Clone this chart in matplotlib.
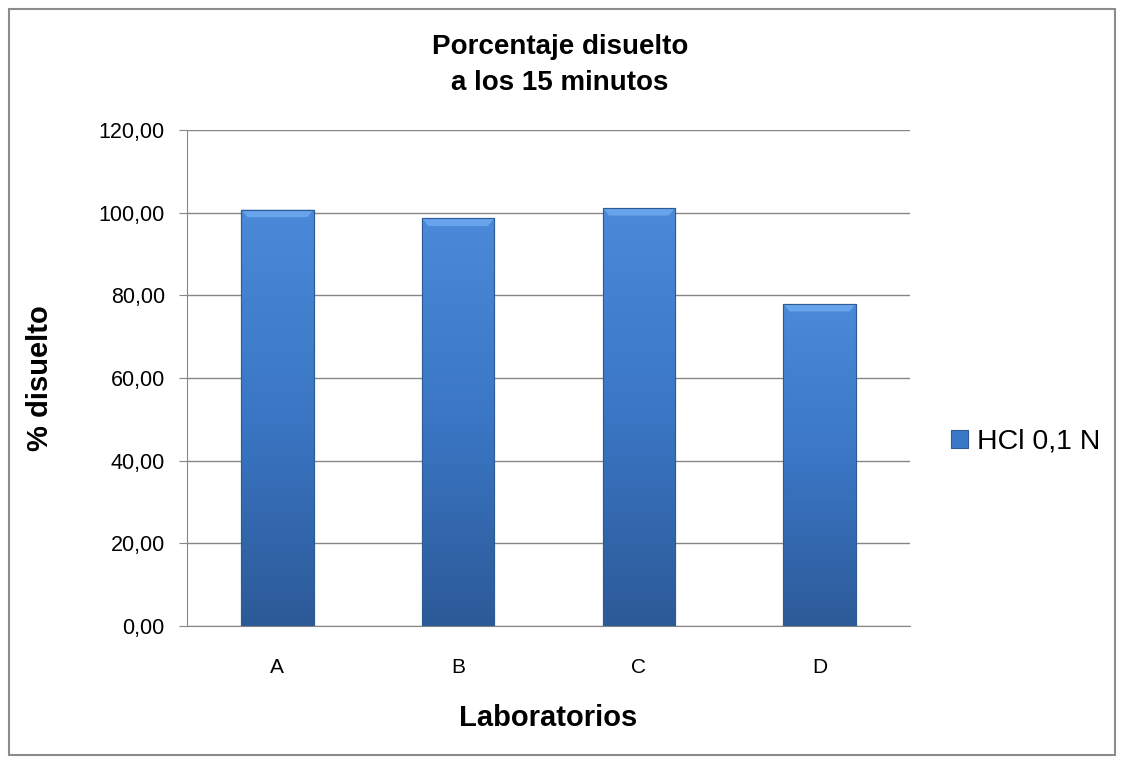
import matplotlib
matplotlib.use("Agg")
import matplotlib.pyplot as plt
import numpy as np
from matplotlib.patches import Rectangle, Polygon
from matplotlib.colors import LinearSegmentedColormap

laboratorios = ["A", "B", "C", "D"]
disuelto = [100.7, 98.6, 101.1, 77.9]
serie = "HCl 0,1 N"
yticks = [0, 20, 40, 60, 80, 100, 120]

plt.rcParams['font.family'] = ['Liberation Sans', 'DejaVu Sans']

fig = plt.figure(figsize=(11.25, 7.64), dpi=100)
ax = fig.add_axes([187/1125, 1 - 626/764, (910-187)/1125, (626-130)/764])

# marco exterior
fig.patches.append(Rectangle((9/1125, 9/764), 1106/1125, 746/764, transform=fig.transFigure,
                             fill=False, edgecolor='#8c8c8c', linewidth=1.5))

grad = LinearSegmentedColormap.from_list('azul', ['#2c5a98', '#3a76c4', '#4a8ad8'])
bars = ax.bar(laboratorios, disuelto, width=0.4, color='#3a78c8', zorder=3, label=serie,
              edgecolor='#2d5b96', linewidth=0.8)
for b in bars:
    x0, w, h = b.get_x(), b.get_width(), b.get_height()
    g = np.linspace(0, 1, 256).reshape(-1, 1)
    im = ax.imshow(g, cmap=grad, origin='lower', aspect='auto',
                   extent=[x0, x0 + w, 0, h], zorder=4)
    im.set_clip_path(b)
    # bisel superior
    bev = 1.8
    ax.add_patch(Polygon([(x0, h), (x0 + w, h), (x0 + w - 0.035, h - bev), (x0 + 0.035, h - bev)],
                         closed=True, color='#68a4ec', zorder=5, linewidth=0))
    ax.add_patch(Rectangle((x0, 0), w, h, fill=False, edgecolor='#2d5b96', linewidth=0.8, zorder=6))

ax.set_xlim(-0.5, 3.5)
ax.set_ylim(0, 120)
ax.set_yticks(yticks)
ax.set_yticklabels([f"{v:.2f}".replace('.', ',') for v in yticks], fontsize=15.5)
ax.tick_params(axis='x', labelsize=15, length=0, pad=23)
ax.tick_params(axis='y', length=6, color='#868686', pad=10)
ax.grid(axis='y', color='#868686', linewidth=1, zorder=0)
for s in ['top', 'right']:
    ax.spines[s].set_visible(False)
for s in ['left', 'bottom']:
    ax.spines[s].set_color('#868686')

fig.text(560/1125, 1 - 65/764, "Porcentaje disuelto\na los 15 minutos", ha='center', va='center',
         fontsize=20, fontweight='bold', linespacing=1.45)
fig.text(40/1125, 1 - 378/764, "% disuelto", rotation=90, ha='center', va='center',
         fontsize=21, fontweight='bold')
fig.text(548/1125, 1 - 718/764, "Laboratorios", ha='center', va='center',
         fontsize=21, fontweight='bold')

leg = ax.legend(loc='center left', bbox_to_anchor=(937/1125, 1 - 442/764),
                bbox_transform=fig.transFigure, frameon=False, fontsize=20.5,
                handlelength=0.6, handleheight=0.6, handletextpad=0.3, borderpad=0)

fig.savefig("out.png", dpi=100)
